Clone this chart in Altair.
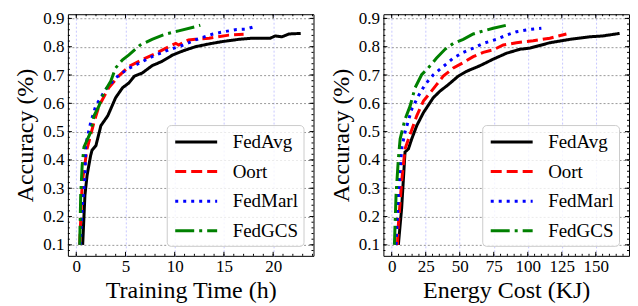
import altair as alt
import pandas as pd

# ---------------- data ----------------
methods = ["FedAvg", "Oort", "FedMarl", "FedGCS"]
colors = ["#000000", "#ff0000", "#0000ff", "#008000"]
dashes = [[1, 0], [11, 5], [3, 5], [19, 5, 3, 5]]

# Training time (h) vs accuracy
time_fedavg_x = [0.65, 0.88, 1.1, 1.46, 1.6, 2.0, 2.5, 3.2, 4.0, 4.7, 5.35, 5.9, 6.7, 7.7, 8.7, 9.8, 10.9, 12.1, 13.5, 14.8, 16.5, 17.8, 19.2, 19.7, 20.2, 20.9, 21.6, 22.8]
time_fedavg_y = [0.1, 0.276, 0.346, 0.416, 0.434, 0.451, 0.521, 0.556, 0.62, 0.655, 0.672, 0.696, 0.707, 0.733, 0.748, 0.771, 0.786, 0.80, 0.81, 0.818, 0.826, 0.83, 0.83, 0.83, 0.838, 0.835, 0.845, 0.847]
time_oort_x = [0.35, 0.6, 1.1, 1.8, 2.3, 3.3, 4.3, 5.35, 6.7, 8.1, 9.4, 10.1, 10.4, 11.4, 12.1, 13.5, 15.5, 17.0]
time_oort_y = [0.1, 0.32, 0.44, 0.533, 0.59, 0.655, 0.696, 0.73, 0.754, 0.777, 0.80, 0.812, 0.806, 0.824, 0.826, 0.83, 0.841, 0.844]
time_fedmarl_x = [0.4, 0.6, 0.9, 0.95, 1.46, 1.97, 2.98, 4.0, 5.2, 6.4, 7.7, 9.4, 10.9, 12.1, 13.0, 13.8, 14.7, 15.5, 16.3, 17.2, 18.0]
time_fedmarl_y = [0.1, 0.229, 0.346, 0.451, 0.532, 0.59, 0.649, 0.69, 0.721, 0.742, 0.765, 0.789, 0.806, 0.824, 0.835, 0.844, 0.851, 0.856, 0.861, 0.862, 0.870]
time_fedgcs_x = [0.35, 0.45, 0.6, 0.78, 1.46, 1.8, 2.3, 2.8, 3.5, 4.0, 4.7, 5.35, 6.5, 7.7, 9.1, 10.4, 12.0, 12.6]
time_fedgcs_y = [0.1, 0.276, 0.381, 0.445, 0.498, 0.556, 0.59, 0.637, 0.678, 0.725, 0.754, 0.771, 0.806, 0.826, 0.845, 0.856, 0.87, 0.876]

# Energy cost (KJ) vs accuracy
energy_fedavg_x = [4.9, 7.3, 9.8, 12.3, 14.7, 18.4, 23.3, 30.6, 35.5, 41.6, 48.9, 55.0, 64.9, 74.6, 84.4, 94.2, 101.5, 116.2, 130.9, 145.5, 155.0, 167.5]
energy_fedavg_y = [0.1, 0.229, 0.428, 0.439, 0.474, 0.521, 0.567, 0.62, 0.643, 0.666, 0.696, 0.713, 0.733, 0.756, 0.777, 0.791, 0.795, 0.814, 0.826, 0.835, 0.838, 0.847]
energy_oort_x = [4.2, 4.9, 7.3, 9.8, 13.5, 18.4, 23.3, 28.2, 33.0, 37.9, 45.3, 52.6, 59.9, 67.3, 74.6, 82.0, 91.7, 104.0, 116.2, 128.4]
energy_oort_y = [0.1, 0.17, 0.323, 0.439, 0.49, 0.556, 0.608, 0.637, 0.666, 0.696, 0.725, 0.744, 0.765, 0.78, 0.789, 0.806, 0.814, 0.821, 0.83, 0.845]
energy_fedmarl_x = [3.2, 4.9, 7.3, 9.8, 14.7, 19.6, 24.5, 30.6, 37.9, 45.3, 52.6, 59.9, 67.3, 77.0, 84.4, 91.7, 101.5, 110.0]
energy_fedmarl_y = [0.1, 0.276, 0.44, 0.498, 0.579, 0.626, 0.666, 0.701, 0.73, 0.76, 0.78, 0.795, 0.812, 0.826, 0.841, 0.853, 0.861, 0.865]
energy_fedgcs_x = [2.0, 3.2, 4.9, 6.2, 9.8, 13.5, 17.2, 22.0, 26.9, 33.0, 39.2, 45.3, 52.6, 59.9, 67.3, 74.6, 84.4]
energy_fedgcs_y = [0.1, 0.276, 0.404, 0.474, 0.544, 0.59, 0.655, 0.701, 0.725, 0.76, 0.791, 0.812, 0.826, 0.845, 0.856, 0.865, 0.876]

# ticks
time_major = [0, 5, 10, 15, 20]
time_minor = list(range(0, 25))
energy_major = [0, 25, 50, 75, 100, 125, 150]
energy_minor = list(range(0, 175, 5))
acc_major = [0.1, 0.2, 0.3, 0.4, 0.5, 0.6, 0.7, 0.8, 0.9]
acc_minor = [round(0.08 + 0.02 * i, 2) for i in range(42)]

time_domain = [-0.85, 24.1]
energy_domain = [-6.1, 174.4]
acc_domain = [0.0612, 0.9148]

FONT = "Liberation Serif"
W, H = 246, 242


def frame(xs, ys):
    rows = []
    for m, x, y in zip(methods, xs, ys):
        for i, (a, b) in enumerate(zip(x, y)):
            rows.append({"method": m, "x": a, "acc": b, "i": i})
    return pd.DataFrame(rows)


def panel(df, xtitle, xdomain, xmaj, xmin):
    xscale = alt.Scale(domain=xdomain, nice=False, zero=False)
    yscale = alt.Scale(domain=acc_domain, nice=False, zero=False)
    xaxis = alt.Axis(values=xmaj, title=xtitle, format="d", grid=True,
                     gridColor="#c8c8ff", gridDash=[2, 2], ticks=False,
                     domain=False, labelPadding=3, titlePadding=4)
    yaxis = alt.Axis(values=acc_major, title="Accuracy (%)", format=".1f",
                     grid=True, gridColor="#999999", gridDash=[2, 2],
                     ticks=False, domain=False, labelPadding=4, titlePadding=5)
    leg = alt.Legend(
        title=None, orient="bottom-right", offset=10,
        symbolType="M-1,0H3", symbolSize=441, symbolStrokeWidth=3,
        labelFontSize=19, labelFont=FONT, labelColor="black",
        labelOffset=35, rowPadding=7.6, padding=5, symbolOffset=2,
        strokeColor="#cccccc", cornerRadius=4,
        fillColor="rgba(255,255,255,0.8)",
    )
    lines = alt.Chart(df).mark_line(strokeWidth=3, clip=True, strokeCap="butt").encode(
        x=alt.X("x:Q", scale=xscale, axis=xaxis),
        y=alt.Y("acc:Q", scale=yscale, axis=yaxis),
        color=alt.Color("method:N", scale=alt.Scale(domain=methods, range=colors), legend=leg),
        strokeDash=alt.StrokeDash("method:N", scale=alt.Scale(domain=methods, range=dashes), legend=leg),
        order="i:Q",
    )
    layers = [lines]
    for vals, ln in ((xmin, 2), (xmaj, 4)):
        c = alt.Chart(pd.DataFrame({"x": vals}))
        xe = alt.X("x:Q", scale=xscale, axis=xaxis)
        layers.append(c.mark_rule(color="black", strokeWidth=1).encode(
            x=xe, y=alt.value(H), y2=alt.value(H - ln)))
        layers.append(c.mark_rule(color="black", strokeWidth=1).encode(
            x=xe, y=alt.value(0), y2=alt.value(ln)))
    for vals, ln in ((acc_minor, 2), (acc_major, 4)):
        c = alt.Chart(pd.DataFrame({"acc": vals}))
        ye = alt.Y("acc:Q", scale=yscale, axis=yaxis)
        layers.append(c.mark_rule(color="black", strokeWidth=1).encode(
            y=ye, x=alt.value(0), x2=alt.value(ln)))
        layers.append(c.mark_rule(color="black", strokeWidth=1).encode(
            y=ye, x=alt.value(W), x2=alt.value(W - ln)))
    return alt.layer(*layers).properties(width=W, height=H)


left = panel(frame([time_fedavg_x, time_oort_x, time_fedmarl_x, time_fedgcs_x],
                   [time_fedavg_y, time_oort_y, time_fedmarl_y, time_fedgcs_y]),
             "Training Time (h)", time_domain, time_major, time_minor)
right = panel(frame([energy_fedavg_x, energy_oort_x, energy_fedmarl_x, energy_fedgcs_x],
                    [energy_fedavg_y, energy_oort_y, energy_fedmarl_y, energy_fedgcs_y]),
              "Energy Cost (KJ)", energy_domain, energy_major, energy_minor)

chart = alt.hconcat(left, right, spacing=14).resolve_scale(
    color="independent", strokeDash="independent", x="independent"
).resolve_legend(color="independent", strokeDash="independent").properties(
    padding={"left": 5, "top": 0, "right": 0, "bottom": 0}
).configure_view(stroke="black", strokeWidth=1).configure_axis(
    labelFont=FONT, titleFont=FONT, labelFontSize=17, titleFontSize=24,
    labelColor="black", titleColor="black", titleFontWeight="normal",
).configure_legend(labelFont=FONT)

chart.save("out.html", embed_options={"renderer": "svg", "actions": False})
